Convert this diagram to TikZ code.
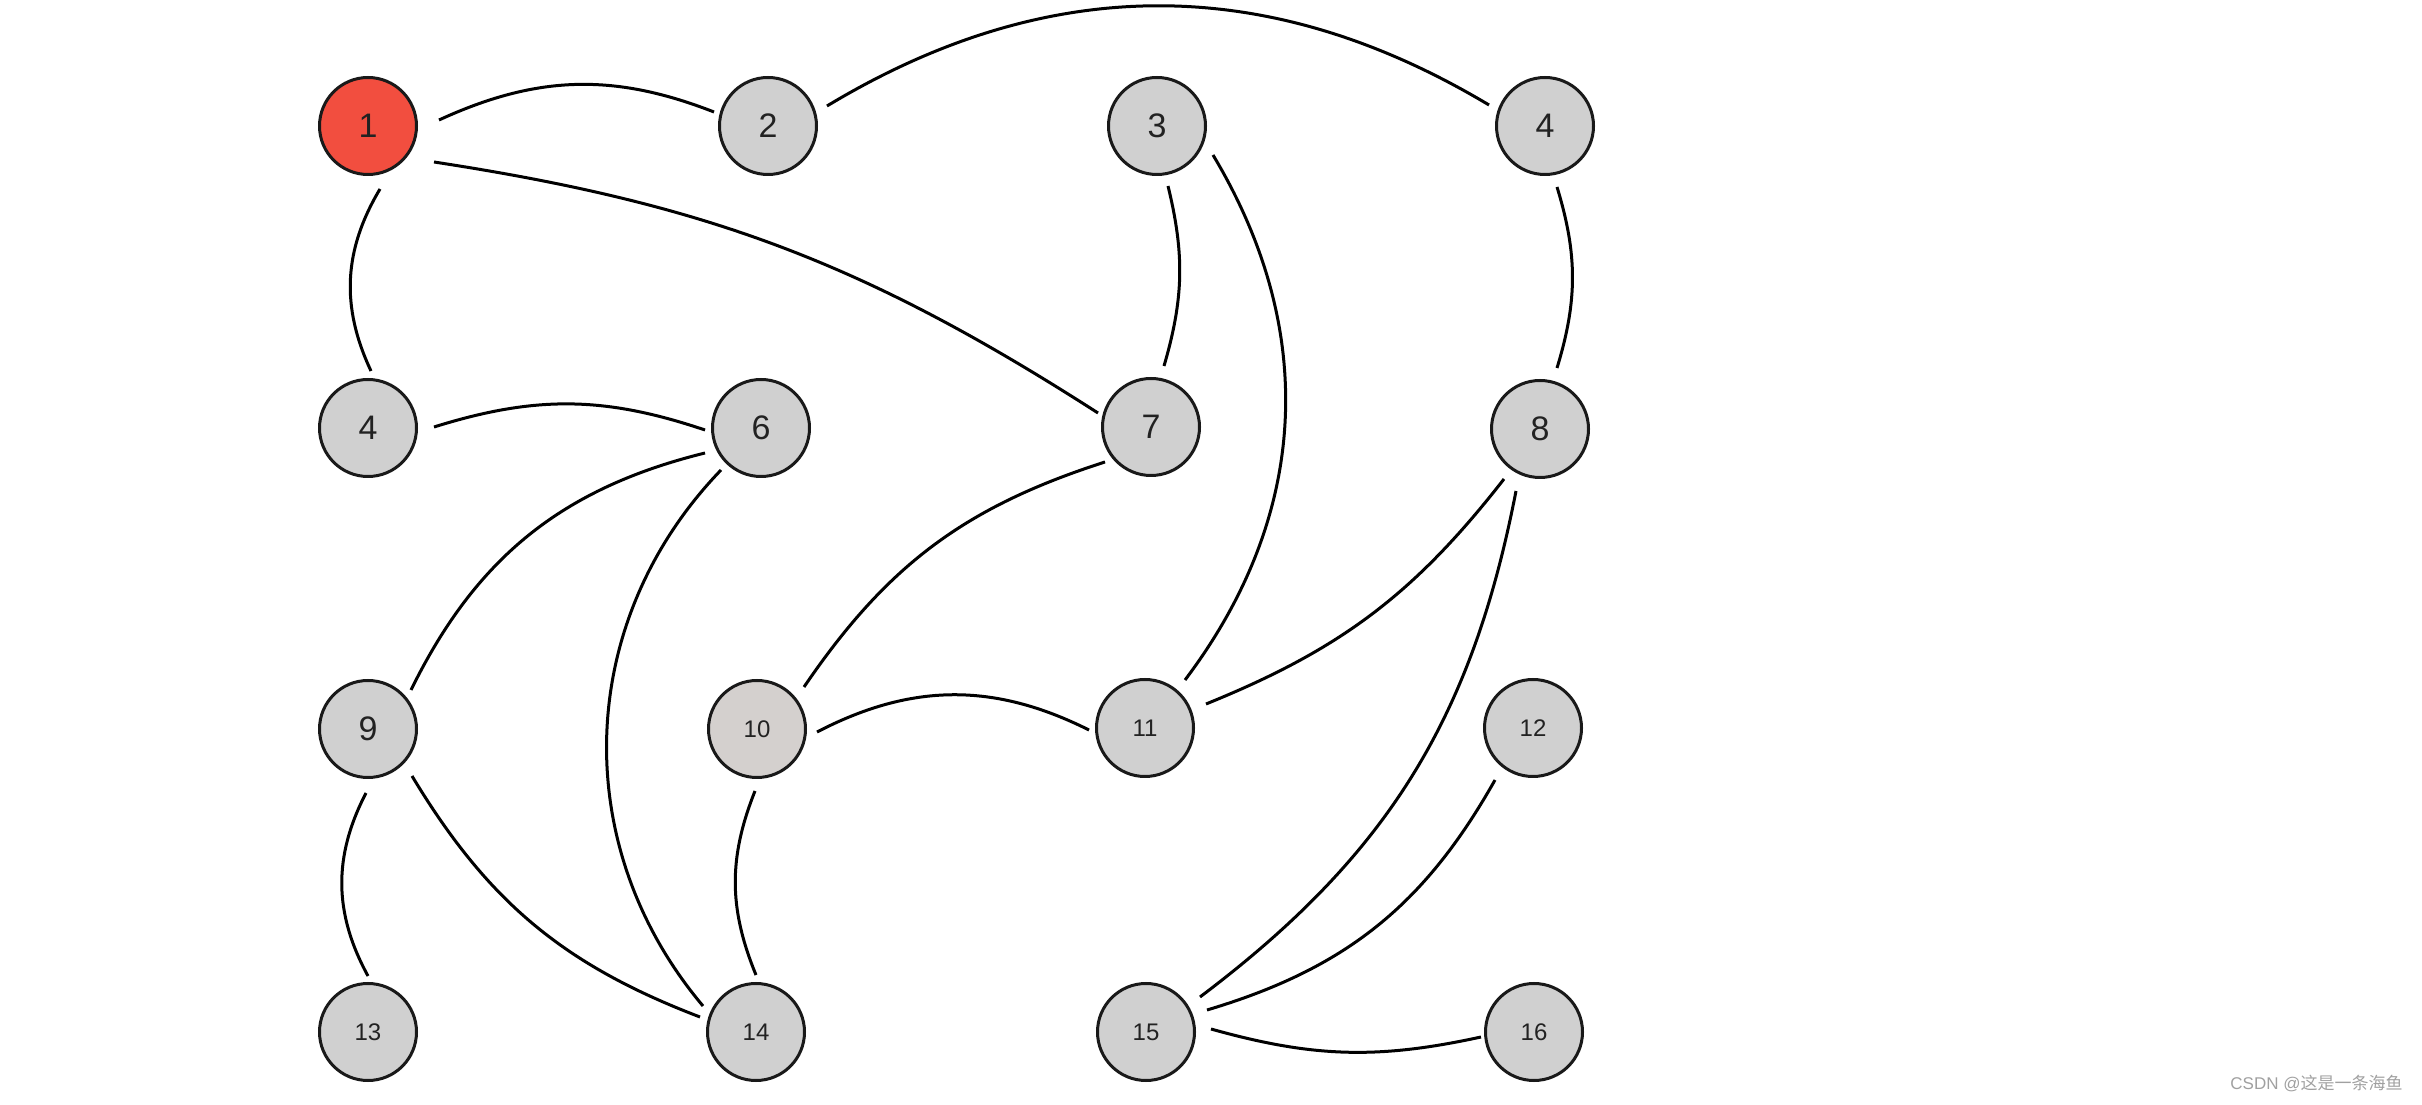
\documentclass[tikz,border=0pt]{standalone}
\usepackage{fontspec}
\setmainfont{Liberation Sans}
\newfontfamily\cjkfont{Noto Sans CJK SC}
\usetikzlibrary{calc}
\definecolor{nodegray}{HTML}{D0D0D0}
\definecolor{warmgray}{HTML}{D4D0CE}
\definecolor{startred}{HTML}{F24E3F}
\definecolor{labelgray}{HTML}{222222}
\definecolor{markgray}{HTML}{A0A0A0}
\tikzset{
  vert/.style={circle, draw=black!90, line width=1.5pt, fill=nodegray, minimum size=48.5pt, inner sep=0pt, text=labelgray},
  big/.style={font=\fontsize{17}{17}\selectfont},
  small/.style={font=\fontsize{12}{12}\selectfont},
  edge/.style={draw=black, line width=1.5pt}
}
\begin{document}
\begin{tikzpicture}[x=0.5pt,y=0.5pt]
\useasboundingbox (0,0) rectangle (2422,1104);
% nodes
\node[vert,big,fill=startred] (n1) at (368,978) {1};
\node[vert,big] (n2) at (768,978) {2};
\node[vert,big] (n3) at (1157,978) {3};
\node[vert,big] (n4) at (1545,978) {4};
\node[vert,big] (n4b) at (368,676) {4};
\node[vert,big] (n6) at (761,676) {6};
\node[vert,big] (n7) at (1151,677) {7};
\node[vert,big] (n8) at (1540,675) {8};
\node[vert,big] (n9) at (368,375) {9};
\node[vert,small,fill=warmgray] (n10) at (757,375) {10};
\node[vert,small] (n11) at (1145,376) {11};
\node[vert,small] (n12) at (1533,376) {12};
\node[vert,small] (n13) at (368,72) {13};
\node[vert,small] (n14) at (756,72) {14};
\node[vert,small] (n15) at (1146,72) {15};
\node[vert,small] (n16) at (1534,72) {16};
% edges
\draw[edge] ($(n1)+(71,6)$) to[bend left=23] ($(n2)+(-54,14)$);
\draw[edge] ($(n2)+(59,20)$) to[bend left=31] ($(n4)+(-56,21)$);
\draw[edge] ($(n1)+(12,-63)$) to[bend right=28] ($(n4b)+(3,57)$);
\draw[edge] ($(n1)+(66,-36)$) to[bend left=12] ($(n7)+(-53,14)$);
\draw[edge] ($(n3)+(11,-60)$) to[bend left=15] ($(n7)+(13,61)$);
\draw[edge] ($(n3)+(56,-29)$) to[bend left=34] ($(n11)+(40,48)$);
\draw[edge] ($(n4)+(12,-61)$) to[bend left=17] ($(n8)+(17,61)$);
\draw[edge] ($(n4b)+(66,1)$) to[bend left=18] ($(n6)+(-56,-2)$);
\draw[edge] ($(n6)+(-56,-25)$) to[bend right=25] ($(n9)+(43,39)$);
\draw[edge] ($(n6)+(-40,-42)$) to[bend right=42] ($(n14)+(-53,26)$);
\draw[edge] ($(n7)+(-46,-35)$) to[bend right=19] ($(n10)+(47,42)$);
\draw[edge] ($(n10)+(60,-3)$) to[bend left=27] ($(n11)+(-56,-2)$);
\draw[edge] ($(n8)+(-36,-50)$) to[bend left=15] ($(n11)+(61,24)$);
\draw[edge] ($(n8)+(-24,-62)$) to[bend left=21] ($(n15)+(54,35)$);
\draw[edge] ($(n12)+(-38,-52)$) to[bend left=22] ($(n15)+(61,22)$);
\draw[edge] ($(n15)+(65,3)$) to[bend right=14] ($(n16)+(-53,-5)$);
\draw[edge] ($(n9)+(-2,-64)$) to[bend right=28] ($(n13)+(0,56)$);
\draw[edge] ($(n9)+(44,-47)$) to[bend right=19] ($(n14)+(-56,15)$);
\draw[edge] ($(n10)+(-2,-62)$) to[bend right=22] ($(n14)+(0,57)$);
% watermark
\node[anchor=east, text=markgray, font=\fontsize{8.5}{8.5}\selectfont, inner sep=0pt] (mark) at (2403,21) {CSDN @{\cjkfont 这是一条海鱼}};
\end{tikzpicture}
\end{document}
